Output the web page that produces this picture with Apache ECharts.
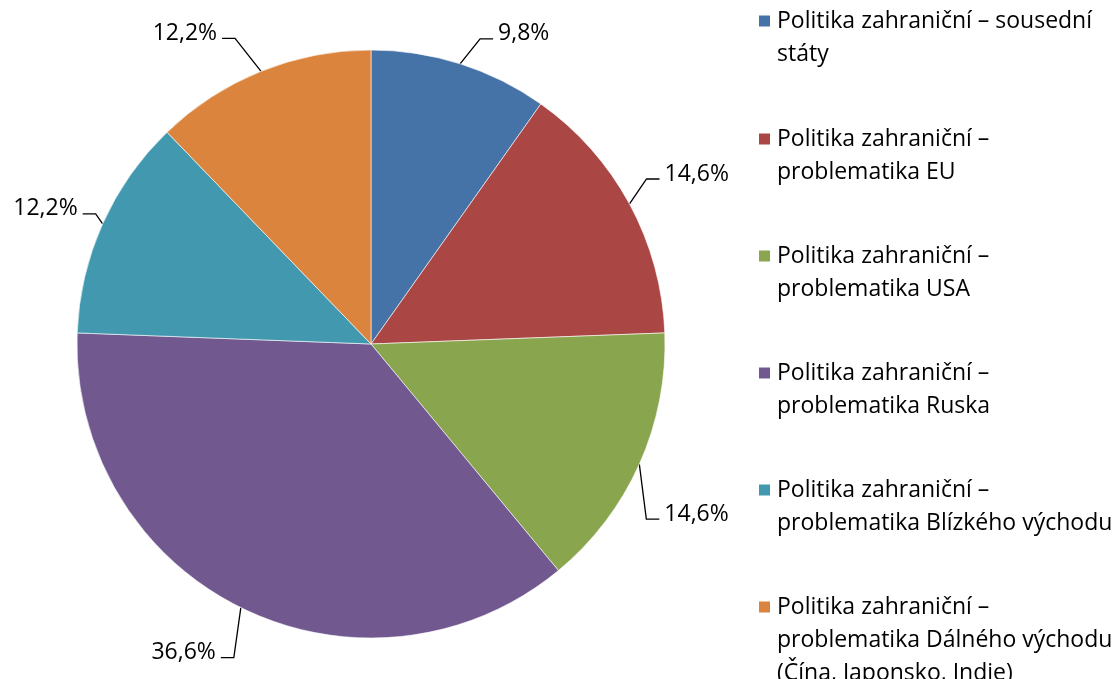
<!DOCTYPE html>
<html>
<head>
<meta charset="utf-8">
<script src="https://cdn.jsdelivr.net/npm/echarts@6/dist/echarts.min.js"></script>
<style>
  html, body { margin: 0; padding: 0; background: #fff; }
  #main { width: 1120px; height: 679px; }
</style>
</head>
<body>
<div id="main"></div>
<script>
// categories and values (percent)
var categories = [
    'Politika zahraniční – sousední státy',
    'Politika zahraniční – problematika EU',
    'Politika zahraniční – problematika USA',
    'Politika zahraniční – problematika Ruska',
    'Politika zahraniční – problematika Blízkého východu',
    'Politika zahraniční – problematika Dálného východu (Čína, Japonsko, Indie)'
];
var values = [9.8, 14.6, 14.6, 36.6, 12.2, 12.2];

// legend texts as wrapped in the reference
var legendLines = [
    ['Politika zahraniční – sousední', 'státy'],
    ['Politika zahraniční –', 'problematika EU'],
    ['Politika zahraniční –', 'problematika USA'],
    ['Politika zahraniční –', 'problematika Ruska'],
    ['Politika zahraniční –', 'problematika Blízkého východu'],
    ['Politika zahraniční –', 'problematika Dálného východu', '(Čína, Japonsko, Indie)']
];

var colors = ['#4572A7', '#AA4643', '#89A54E', '#71588F', '#4198AF', '#DB843D'];
var FONT = 'Open Sans';
var FONT_SIZE = 23;
var LINE_H = 33;

// where each data label sits, relative to the slice edge (end of the leader line)
var labelShift = [[33, -25], [30, -25], [20, 55], [-20, 50], [-20, -10], [-39, -33]];

var myChart = echarts.init(document.getElementById('main'));

var data = [];
for (var i = 0; i < categories.length; i++) {
    data.push({ name: categories[i], value: values[i] });
}

// one legend per item; blank lines on top keep the marker on the first text line
var legendTops = [21, 139, 256, 373, 490, 607];
var legends = categories.map(function (name, i) {
    var lines = legendLines[i];
    var pad = [];
    for (var k = 1; k < lines.length; k++) pad.push(' ');
    var txt = pad.concat(lines).join('\n');
    var h = (2 * lines.length - 1) * LINE_H;
    return {
        orient: 'vertical',
        left: 757,
        top: legendTops[i] - h / 2,
        padding: 0,
        itemWidth: 13,
        itemHeight: 13,
        icon: 'rect',
        selectedMode: false,
        data: [name],
        formatter: function () { return txt; },
        textStyle: {
            fontFamily: FONT,
            fontSize: FONT_SIZE,
            color: '#000',
            lineHeight: LINE_H,
            padding: [0, 0, 0, 1]
        }
    };
});

var option = {
    animation: false,
    color: colors,
    legend: legends,
    series: [{
        type: 'pie',
        center: [371, 344],
        radius: 294,
        startAngle: 90,
        clockwise: true,
        avoidLabelOverlap: false,
        data: data,
        itemStyle: {
            borderColor: '#fff',
            borderWidth: 0.6
        },
        label: {
            show: true,
            formatter: function (p) {
                return p.value.toFixed(1).replace('.', ',') + '%';
            },
            fontFamily: FONT,
            fontSize: FONT_SIZE,
            color: '#000'
        },
        labelLine: {
            show: true,
            length: 20,
            length2: 10,
            lineStyle: { color: '#000', width: 1.3 }
        },
        labelLayout: function (p) {
            var edge = p.labelLinePoints[0];
            var s = labelShift[p.dataIndex];
            var dir = s[0] >= 0 ? 1 : -1;
            var endX = edge[0] + s[0];
            var endY = edge[1] + s[1];
            return {
                x: endX + dir * 5,
                y: endY - 5,
                align: dir > 0 ? 'left' : 'right',
                verticalAlign: 'middle',
                labelLinePoints: [edge, [endX - dir * 13, endY], [endX, endY]]
            };
        },
        emphasis: { disabled: true }
    }]
};

myChart.setOption(option);
</script>
</body>
</html>
